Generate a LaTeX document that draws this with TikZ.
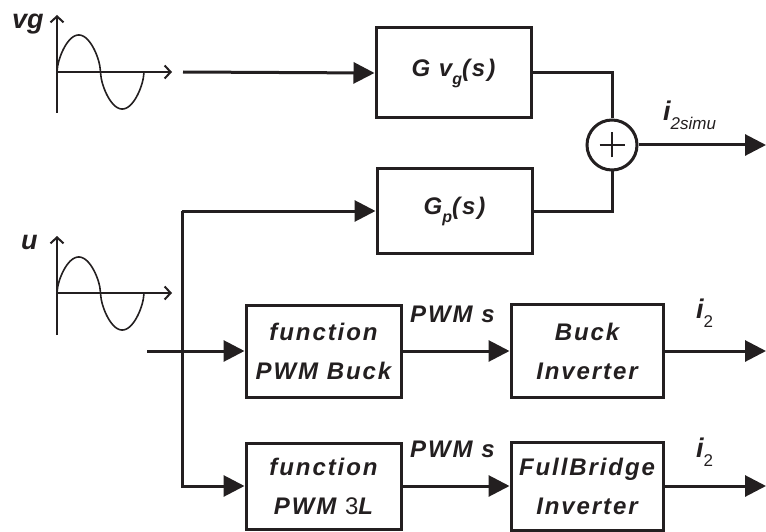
\documentclass[tikz,border=0pt]{standalone}
\usepackage{fontspec}
\setmainfont{Liberation Sans}
\newfontfamily\lbl[LetterSpace=8]{Liberation Sans}
\usetikzlibrary{arrows.meta}
\definecolor{ink}{RGB}{35,31,32}
\newcommand{\lowsub}[3][-7pt]{\raisebox{#1}{\fontsize{#2}{#2}\selectfont #3}}
\begin{document}
\begin{tikzpicture}[x=1pt,y=-1pt,color=ink,
  blk/.style={draw, fill=white, line width=3pt, minimum width=155pt, inner sep=0pt, align=center,
    font=\lbl\bfseries\itshape\fontsize{24}{39}\selectfont},
  wire/.style={line width=3pt},
  arr/.style={wire, -{Triangle[length=21pt,width=21pt]}},
  axisarr/.style={line width=2pt, -{Straight Barb[length=6pt,width=13pt]}},
  wave/.style={line width=1.6pt},
  lab/.style={font=\lbl\bfseries\itshape\fontsize{24}{26}\selectfont, inner sep=0pt, anchor=base west},
  sumnode/.style={draw, circle, line width=3pt, minimum size=50pt, inner sep=0pt}
]
\useasboundingbox (0,0) rectangle (766,532);

% ---- blocks
\node[blk, minimum height=90pt] (Gvg) at (453.5,73) {G v\lowsub[-8pt]{16}{g}(s)};
\node[blk, minimum height=84pt] (Gp) at (454.5,211) {G\lowsub[-8pt]{16}{p}(s)};
\node[blk, minimum height=92pt] (F1) at (323.5,351) {function\\PWM Buck};
\node[blk, minimum height=86pt] (F2) at (323.5,486) {function\\PWM {\mdseries\upshape 3}L};
\node[blk, minimum width=152pt, minimum height=93pt] (B1) at (587,351) {Buck\\Inverter};
\node[blk, minimum width=152pt, minimum height=88pt] (B2) at (587,486) {FullBridge\\Inverter};
\node[sumnode] (sum) at (612,145) {};
\draw[line width=2.5pt] ([xshift=-12.5pt]sum.center) -- ([xshift=12.5pt]sum.center);
\draw[line width=2.5pt] ([yshift=-12.5pt]sum.center) -- ([yshift=12.5pt]sum.center);

% ---- coordinates
\coordinate (vgin) at (183,72);
\coordinate (tt) at (182,211);
\coordinate (uin) at (147,351);
\coordinate (o1) at (766,145);
\coordinate (o2) at (766,351);
\coordinate (o3) at (766,486);

% ---- connectors
\draw[arr] (vgin) -- (Gvg.west);
\draw[wire] (Gvg.east) -| (sum.north);
\draw[wire] (Gp.east) -| (sum.south);
\draw[arr] (sum.east) -- (o1);
\draw[arr] (tt) -- (Gp.west);
\draw[arr] (tt) |- (F2.west);
\draw[arr] (uin) -- (F1.west);
\draw[arr] (F1.east) -- (B1.west);
\draw[arr] (F2.east) -- (B2.west);
\draw[arr] (B1.east) -- (o2);
\draw[arr] (B2.east) -- (o3);

% ---- source waveforms
\coordinate (vgt) at (57,15);
\coordinate (vgb) at (57,113);
\coordinate (vgo) at (57,72);
\coordinate (vgr) at (172,72);
\draw[axisarr] (vgb) -- (vgt);
\draw[axisarr] (vgo) -- (vgr);
\draw[wave] plot[domain=0:43.5,samples=60,smooth] ({57+\x},{72-37*(sin(\x*180/43.5))^0.6})
  -- plot[domain=43.5:87,samples=60,smooth] ({57+\x},{72+37*(-sin(\x*180/43.5))^0.6});

\coordinate (ut) at (57,236);
\coordinate (ub) at (57,335);
\coordinate (uo) at (57,293);
\coordinate (ur) at (172,293);
\draw[axisarr] (ub) -- (ut);
\draw[axisarr] (uo) -- (ur);
\draw[wave] plot[domain=0:43.5,samples=60,smooth] ({57+\x},{293-36*(sin(\x*180/43.5))^0.6})
  -- plot[domain=43.5:87,samples=60,smooth] ({57+\x},{293+37*(-sin(\x*180/43.5))^0.6});

% ---- labels
\node[lab, font=\bfseries\itshape\fontsize{27}{28}\selectfont] (vglab) at (12,29) {vg};
\node[lab, font=\bfseries\itshape\fontsize{27}{28}\selectfont] (ulab) at (21,249) {u};
\node[lab] (pwm1) at (410,322) {PWM s};
\node[lab] (pwm2) at (410,457) {PWM s};
\node[lab, font=\bfseries\itshape\fontsize{27}{28}\selectfont] (isim) at (663,121) {i\lowsub[-9pt]{17}{\mdseries 2simu}};
\node[lab, font=\bfseries\itshape\fontsize{27}{28}\selectfont] (i2a) at (696,318) {i\lowsub[-9pt]{17}{\mdseries\upshape 2}};
\node[lab, font=\bfseries\itshape\fontsize{27}{28}\selectfont] (i2b) at (696,457) {i\lowsub[-9pt]{17}{\mdseries\upshape 2}};
\end{tikzpicture}
\end{document}
